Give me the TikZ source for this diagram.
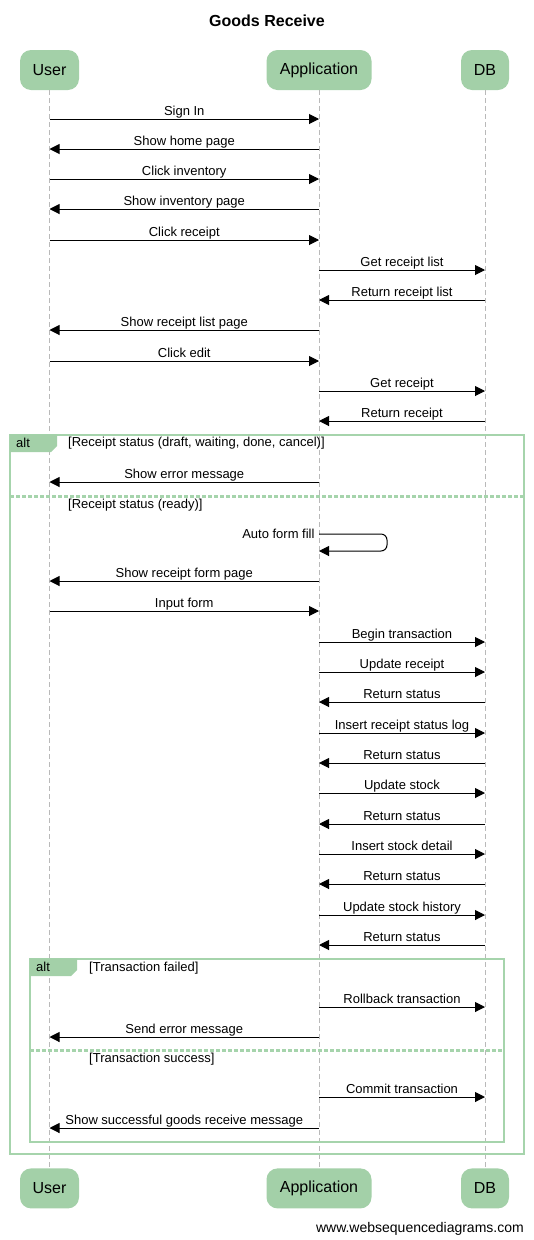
\documentclass[tikz,border=0pt]{standalone}
\usepackage{fontspec}
\setmainfont{Liberation Sans}
\usetikzlibrary{arrows.meta,
  positioning
}
\definecolor{boxgreen}{RGB}{163,208,168}
\definecolor{framegreen}{RGB}{166,212,172}
\definecolor{lifegray}{RGB}{185,185,185}

\begin{document}
\begin{tikzpicture}[x=1pt, y=-1pt,
        actorbox/.style={rectangle, rounded corners=11pt, fill=boxgreen, minimum height=40pt, inner sep=0pt, font=\fontsize{16}{19}\selectfont},
        msgline/.style={-{Triangle[length=10pt,width=10pt]}, line width=1pt},
        msglabel/.style={above=1pt, inner sep=0pt, text height=9.5pt, text depth=2.5pt, font=\fontsize{13}{15}\selectfont},
        lifeline/.style={draw=lifegray, dash pattern=on 5pt off 3pt, line width=0.8pt},
        framebox/.style={draw=framegreen, line width=2pt},
        sepline/.style={draw=framegreen, line width=3pt, dash pattern=on 4pt off 2pt},
        guard/.style={anchor=west, inner sep=0pt, font=\fontsize{13}{15}\selectfont},
      ]
      \useasboundingbox (0,0) rectangle (534,1240);

      % Nodes
      \node[font=\bfseries\fontsize{16}{19}\selectfont] (title) at (267,21) {Goods Receive};

      \node[actorbox, minimum width=59pt] (user) at (49.5,70) {User};
      \node[actorbox, minimum width=105pt] (application) at (319,70) {Application};
      \node[actorbox, minimum width=48pt] (db) at (485,70) {DB};

      \node[actorbox, minimum width=59pt] (user_bottom) [below=1078pt of user] {User};
      \node[actorbox, minimum width=105pt] (application_bottom) [below=1078pt of application] {Application};
      \node[actorbox, minimum width=48pt] (db_bottom) [below=1078pt of db] {DB};

      \node[anchor=east, inner sep=0pt, font=\fontsize{14}{17}\selectfont] (footer) at (524,1229) {www.websequencediagrams.com};

      % Lifelines
      \draw[lifeline] (user) -- (user_bottom);
      \draw[lifeline] (application) -- (application_bottom);
      \draw[lifeline] (db) -- (db_bottom);

      % Frames
      \draw[framebox] (10,434.5) rectangle (524,1154);
      \fill[boxgreen] (10,434.5) -- (57,434.5) -- (57,446) -- (51,452) -- (10,452) -- cycle;
      \node[guard] (alt_outer) at (16,443) {alt};
      \node[guard] (guard_cancel) at (68,443) {[Receipt status (draft, waiting, done, cancel)]};
      \draw[sepline] (10,496) -- (524,496);
      \node[guard] (guard_ready) at (68,505) {[Receipt status (ready)]};

      \draw[framebox] (30,958.5) rectangle (504,1141.5);
      \fill[boxgreen] (30,958.5) -- (77,958.5) -- (77,970) -- (71,976) -- (30,976) -- cycle;
      \node[guard] (alt_inner) at (36,967) {alt};
      \node[guard] (guard_failed) at (89,968) {[Transaction failed]};
      \draw[sepline] (30,1050) -- (504,1050);
      \node[guard] (guard_success) at (89,1059) {[Transaction success]};

      % Lines
      \draw[msgline] (user |- 0,119) -- node[msglabel] {Sign In} (application |- 0,119);
      \draw[msgline] (application |- 0,149) -- node[msglabel] {Show home page} (user |- 0,149);
      \draw[msgline] (user |- 0,179) -- node[msglabel] {Click inventory} (application |- 0,179);
      \draw[msgline] (application |- 0,209) -- node[msglabel] {Show inventory page} (user |- 0,209);
      \draw[msgline] (user |- 0,240) -- node[msglabel] {Click receipt} (application |- 0,240);
      \draw[msgline] (application |- 0,270) -- node[msglabel] {Get receipt list} (db |- 0,270);
      \draw[msgline] (db |- 0,300) -- node[msglabel] {Return receipt list} (application |- 0,300);
      \draw[msgline] (application |- 0,330) -- node[msglabel] {Show receipt list page} (user |- 0,330);
      \draw[msgline] (user |- 0,361) -- node[msglabel] {Click edit} (application |- 0,361);
      \draw[msgline] (application |- 0,391) -- node[msglabel] {Get receipt} (db |- 0,391);
      \draw[msgline] (db |- 0,421) -- node[msglabel] {Return receipt} (application |- 0,421);

      \draw[msgline] (application |- 0,482) -- node[msglabel] {Show error message} (user |- 0,482);

      \draw[msgline, rounded corners=6pt] (application |- 0,534) node[left=4pt, inner sep=0pt, font=\fontsize{13}{15}\selectfont] {Auto form fill}
        -- (387,534) -- (387,551) -- (application |- 0,551);
      \draw[msgline] (application |- 0,581) -- node[msglabel] {Show receipt form page} (user |- 0,581);
      \draw[msgline] (user |- 0,611) -- node[msglabel] {Input form} (application |- 0,611);
      \draw[msgline] (application |- 0,642) -- node[msglabel] {Begin transaction} (db |- 0,642);
      \draw[msgline] (application |- 0,672) -- node[msglabel] {Update receipt} (db |- 0,672);
      \draw[msgline] (db |- 0,702) -- node[msglabel] {Return status} (application |- 0,702);
      \draw[msgline] (application |- 0,733) -- node[msglabel] {Insert receipt status log} (db |- 0,733);
      \draw[msgline] (db |- 0,763) -- node[msglabel] {Return status} (application |- 0,763);
      \draw[msgline] (application |- 0,793) -- node[msglabel] {Update stock} (db |- 0,793);
      \draw[msgline] (db |- 0,824) -- node[msglabel] {Return status} (application |- 0,824);
      \draw[msgline] (application |- 0,854) -- node[msglabel] {Insert stock detail} (db |- 0,854);
      \draw[msgline] (db |- 0,884) -- node[msglabel] {Return status} (application |- 0,884);
      \draw[msgline] (application |- 0,915) -- node[msglabel] {Update stock history} (db |- 0,915);
      \draw[msgline] (db |- 0,945) -- node[msglabel] {Return status} (application |- 0,945);

      \draw[msgline] (application |- 0,1007) -- node[msglabel] {Rollback transaction} (db |- 0,1007);
      \draw[msgline] (application |- 0,1037) -- node[msglabel] {Send error message} (user |- 0,1037);
      \draw[msgline] (application |- 0,1097) -- node[msglabel] {Commit transaction} (db |- 0,1097);
      \draw[msgline] (application |- 0,1128) -- node[msglabel] {Show successful goods receive message} (user |- 0,1128);
    \end{tikzpicture}
\end{document}
